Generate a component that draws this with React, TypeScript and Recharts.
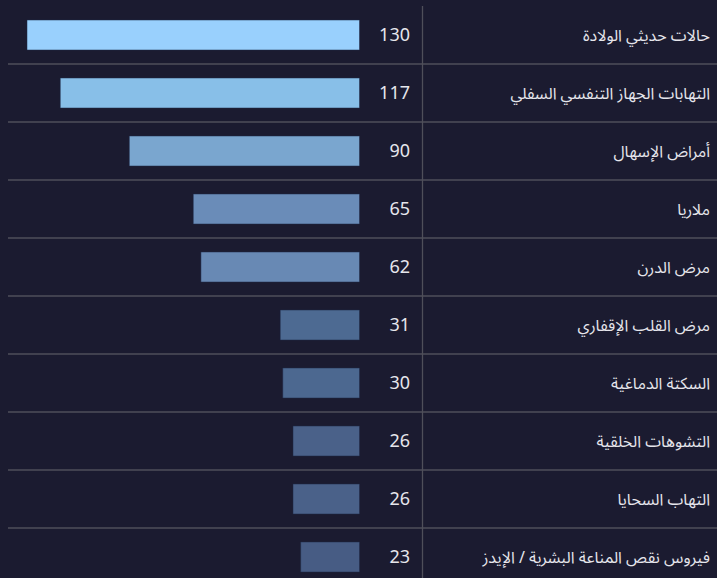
import React from "react";
import { BarChart, Bar, XAxis, YAxis, Cell } from "recharts";

const categories = [
  "حالات حديثي الولادة",
  "التهابات الجهاز التنفسي السفلي",
  "أمراض الإسهال",
  "ملاريا",
  "مرض الدرن",
  "مرض القلب الإقفاري",
  "السكتة الدماغية",
  "التشوهات الخلقية",
  "التهاب السحايا",
  "فيروس نقص المناعة البشرية / الإيدز",
];

const values = [130, 117, 90, 65, 62, 31, 30, 26, 26, 23];

const barColors = [
  "#99d0fd",
  "#88bfe8",
  "#7aa6cf",
  "#6a8cb8",
  "#6889b4",
  "#4d6a92",
  "#4c6890",
  "#4a6189",
  "#4a6189",
  "#475c84",
];

const data = categories.map((name, i) => ({ name, value: values[i] }));

const W = 717;
const H = 586;
const TOP = 6;
const ROW_H = (H - TOP) / data.length;
const BG = "#1b1b30";
const LINE = "#4f4f5a";
const FONT = "'Noto Sans Arabic', 'Noto Sans', 'DejaVu Sans', sans-serif";

const RowTick = (props: any) => {
  const { x, y, payload, index } = props;
  const val = values[index];
  const half = ROW_H / 2;
  const isLast = index === data.length - 1;
  return (
    <g>
      {!isLast && (
        <line x1={8} x2={W} y1={y + half} y2={y + half} stroke={LINE} strokeWidth={1.3} />
      )}
      <line x1={x + 63} x2={x + 63} y1={y - half} y2={y + half} stroke={LINE} strokeWidth={1.3} />
      <text
        x={x + 50.5}
        y={y}
        dy="0.35em"
        textAnchor="end"
        fill="#e6e6ec"
        fontSize={18}
        fontFamily={FONT}
      >
        {val}
      </text>
      <text
        x={x + 350.5}
        y={y}
        dy="0.35em"
        textAnchor="end"
        fill="#e6e6ec"
        fontSize={16}
        fontFamily={FONT}
      >
        {payload.value}
      </text>
    </g>
  );
};

export default function App() {
  return (
    <div
      style={{
        position: "absolute",
        left: 0,
        top: 0,
        width: W,
        height: 578,
        overflow: "hidden",
        background: BG,
      }}
    >
      <BarChart
        width={W}
        height={H}
        data={data}
        layout="vertical"
        margin={{ top: TOP, right: 0, bottom: 0, left: 27 }}
        barSize={30}
      >
        <XAxis type="number" domain={[0, "dataMax"]} reversed hide />
        <YAxis
          type="category"
          dataKey="name"
          orientation="right"
          width={357.5}
          axisLine={false}
          tickLine={false}
          tickSize={0}
          tickMargin={0}
          interval={0}
          tick={<RowTick />}
        />
        <Bar
          dataKey="value"
          isAnimationActive={false}
          stroke="rgba(30,40,70,0.5)"
          strokeWidth={1}
        >
          {data.map((d, i) => (
            <Cell key={d.name} fill={barColors[i]} />
          ))}
        </Bar>
      </BarChart>
    </div>
  );
}
